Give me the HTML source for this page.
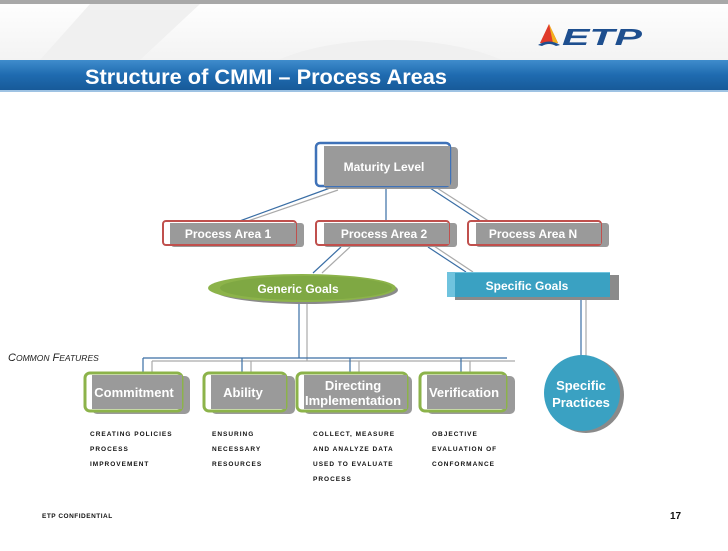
<!DOCTYPE html>
<html><head><style>
body{margin:0;width:728px;height:546px;overflow:hidden;background:#fff;font-family:"Liberation Sans",sans-serif;}
svg text{font-family:"Liberation Sans",sans-serif;}
</style></head><body>
<svg width="728" height="546" viewBox="0 0 728 546" xmlns="http://www.w3.org/2000/svg">
<defs>
<linearGradient id="band" x1="0" y1="0" x2="0" y2="1"><stop offset="0" stop-color="#3f8ccc"/><stop offset="0.5" stop-color="#1f6bb0"/><stop offset="1" stop-color="#175a99"/></linearGradient>
<linearGradient id="bg" x1="0" y1="0" x2="0" y2="1"><stop offset="0" stop-color="#fff"/><stop offset="1" stop-color="#f3f3f3"/></linearGradient>
<clipPath id="top"><rect x="0" y="0" width="728" height="60"/></clipPath>
</defs>
<rect x="0" y="0" width="728" height="60" fill="url(#bg)"/>
<rect x="0" y="0" width="728" height="4" fill="#a8a8a8"/>
<path d="M40 60 L90 4 L200 4 L140 60Z" fill="#f0f0f0"/>
<ellipse cx="390" cy="100" rx="150" ry="60" fill="#f0f0f0" clip-path="url(#top)"/>
<rect x="0" y="60" width="728" height="30" fill="url(#band)"/>
<rect x="0" y="90" width="728" height="2" fill="#9fc3e3"/>
<text x="85" y="84" font-size="21" font-weight="bold" fill="#fff" textLength="362" lengthAdjust="spacingAndGlyphs">Structure of CMMI – Process Areas</text>
<polygon points="549,24 540,43 558,43" fill="#e03a2a"/>
<polygon points="549,24 558,43 553,43" fill="#f2b01e"/>
<path d="M538 45 Q549 38 560 45 L556 46 Q549 42 542 46Z" fill="#1e4f8f"/>
<text x="562" y="45" font-size="23" font-weight="bold" font-style="italic" fill="#1e4f8f" textLength="80" lengthAdjust="spacingAndGlyphs">ETP</text>

<g fill="none" stroke-width="1.2">
<line x1="330" y1="188" x2="237" y2="222" stroke="#3a6ea5"/><line x1="338" y1="190" x2="245" y2="222" stroke="#aaa"/>
<line x1="386" y1="188" x2="386" y2="222" stroke="#3a6ea5"/>
<line x1="430" y1="188" x2="482" y2="222" stroke="#3a6ea5"/><line x1="437" y1="188" x2="490" y2="222" stroke="#aaa"/>
<line x1="341" y1="247" x2="313" y2="273" stroke="#3a6ea5"/><line x1="350" y1="247" x2="322" y2="273" stroke="#aaa"/>
<line x1="428" y1="247" x2="466" y2="272" stroke="#3a6ea5"/><line x1="434" y1="246" x2="473" y2="272" stroke="#aaa"/>
<line x1="299" y1="302" x2="299" y2="358" stroke="#3a6ea5"/><line x1="307" y1="302" x2="307" y2="361" stroke="#aaa"/>
<line x1="581" y1="298" x2="581" y2="358" stroke="#3a6ea5"/><line x1="586" y1="298" x2="586" y2="358" stroke="#aaa"/>
<line x1="143" y1="358" x2="507" y2="358" stroke="#3a6ea5"/><line x1="152" y1="361" x2="515" y2="361" stroke="#aaa"/>
<line x1="143" y1="358" x2="143" y2="374" stroke="#3a6ea5"/><line x1="152" y1="361" x2="152" y2="374" stroke="#aaa"/>
<line x1="242" y1="358" x2="242" y2="374" stroke="#3a6ea5"/><line x1="251" y1="361" x2="251" y2="374" stroke="#aaa"/>
<line x1="350" y1="358" x2="350" y2="374" stroke="#3a6ea5"/><line x1="359" y1="361" x2="359" y2="374" stroke="#aaa"/>
<line x1="461" y1="358" x2="461" y2="374" stroke="#3a6ea5"/><line x1="470" y1="361" x2="470" y2="374" stroke="#aaa"/>
</g>

<rect x="324" y="147" width="134" height="42" rx="4" fill="#9a9a9a"/>
<rect x="316" y="143" width="134" height="43" rx="4" fill="#fff" stroke="#3f72b8" stroke-width="2.5"/>
<rect x="324" y="146" width="126" height="40" fill="#9a9a9a"/>
<text x="384" y="171" font-size="12" font-weight="bold" fill="#fff" text-anchor="middle">Maturity Level</text>

<g font-size="12" font-weight="bold" fill="#fff" text-anchor="middle">
<rect x="171" y="223" width="133" height="24" rx="3" fill="#9a9a9a"/>
<rect x="163" y="221" width="133" height="24" rx="3" fill="#fff" stroke="#c0504d" stroke-width="2"/>
<rect x="170" y="223" width="126" height="21" fill="#9a9a9a"/>
<text x="228" y="238">Process Area 1</text>
<rect x="324" y="223" width="133" height="24" rx="3" fill="#9a9a9a"/>
<rect x="316" y="221" width="133" height="24" rx="3" fill="#fff" stroke="#c0504d" stroke-width="2"/>
<rect x="324" y="223" width="125" height="21" fill="#9a9a9a"/>
<text x="384" y="238">Process Area 2</text>
<rect x="476" y="223" width="133" height="24" rx="3" fill="#9a9a9a"/>
<rect x="468" y="221" width="133" height="24" rx="3" fill="#fff" stroke="#c0504d" stroke-width="2"/>
<rect x="476" y="223" width="125" height="21" fill="#9a9a9a"/>
<text x="533" y="238">Process Area N</text>

<ellipse cx="306" cy="290" rx="92" ry="14" fill="#8a8a8a"/>
<ellipse cx="302" cy="288" rx="94" ry="14" fill="#8cb34a"/>
<ellipse cx="306" cy="288" rx="86" ry="12" fill="#7fa843"/>
<text x="298" y="293">Generic Goals</text>

<rect x="455" y="275" width="164" height="25" fill="#8a8a8a"/>
<rect x="447" y="272" width="163" height="25" fill="#6fc3de"/>
<rect x="455" y="273" width="155" height="24" fill="#3aa1c2"/>
<text x="527" y="290">Specific Goals</text>

<circle cx="586" cy="395" r="38" fill="#8a8a8a"/>
<circle cx="582" cy="393" r="38" fill="#3aa1c2"/>
<text x="581" y="390" font-size="13">Specific</text>
<text x="581" y="407" font-size="13">Practices</text>
</g>

<text x="8" y="361" font-size="11" font-style="italic" fill="#222" font-family="Liberation Serif">C<tspan font-size="8.5">OMMON</tspan> F<tspan font-size="8.5">EATURES</tspan></text>

<g font-size="13" font-weight="bold" fill="#fff" text-anchor="middle">
<rect x="92" y="376" width="98" height="38" rx="5" fill="#9a9a9a"/>
<rect x="85" y="373" width="97" height="38" rx="5" fill="#fff" stroke="#8cb34a" stroke-width="3"/>
<rect x="92" y="375" width="90" height="34" fill="#9a9a9a"/>
<text x="134" y="397">Commitment</text>
<rect x="211" y="376" width="84" height="38" rx="5" fill="#9a9a9a"/>
<rect x="204" y="373" width="82" height="38" rx="5" fill="#fff" stroke="#8cb34a" stroke-width="3"/>
<rect x="211" y="375" width="75" height="34" fill="#9a9a9a"/>
<text x="243" y="397">Ability</text>
<rect x="304" y="376" width="108" height="38" rx="5" fill="#9a9a9a"/>
<rect x="297" y="373" width="110" height="38" rx="5" fill="#fff" stroke="#8cb34a" stroke-width="3"/>
<rect x="304" y="375" width="103" height="34" fill="#9a9a9a"/>
<text x="353" y="390">Directing</text>
<text x="353" y="405">Implementation</text>
<rect x="427" y="376" width="88" height="38" rx="5" fill="#9a9a9a"/>
<rect x="420" y="373" width="86" height="38" rx="5" fill="#fff" stroke="#8cb34a" stroke-width="3"/>
<rect x="427" y="375" width="79" height="34" fill="#9a9a9a"/>
<text x="464" y="397">Verification</text>
</g>

<g font-size="6.5" font-weight="bold" fill="#111" style="letter-spacing:1px">
<text x="90" y="436">CREATING POLICIES</text>
<text x="90" y="451">PROCESS</text>
<text x="90" y="466">IMPROVEMENT</text>
<text x="212" y="436">ENSURING</text>
<text x="212" y="451">NECESSARY</text>
<text x="212" y="466">RESOURCES</text>
<text x="313" y="436">COLLECT, MEASURE</text>
<text x="313" y="451">AND ANALYZE DATA</text>
<text x="313" y="466">USED TO EVALUATE</text>
<text x="313" y="481">PROCESS</text>
<text x="432" y="436">OBJECTIVE</text>
<text x="432" y="451">EVALUATION OF</text>
<text x="432" y="466">CONFORMANCE</text>
<text x="42" y="518" style="letter-spacing:0.5px">ETP CONFIDENTIAL</text>
</g>
<text x="670" y="519" font-size="10" font-weight="bold" fill="#111">17</text>
</svg>
</body></html>
